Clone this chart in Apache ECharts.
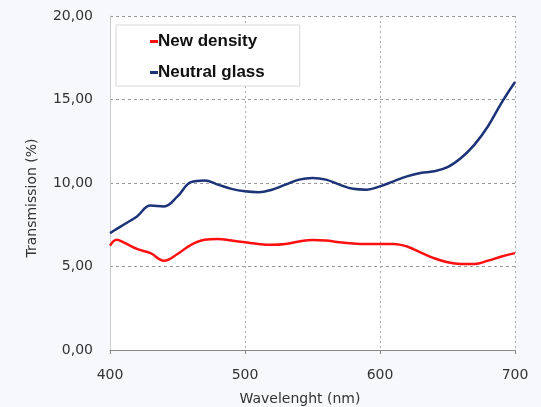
<!DOCTYPE html>
<html><head><meta charset="utf-8">
<script src="https://cdn.jsdelivr.net/npm/echarts@6/dist/echarts.min.js"></script>
<style>html,body{margin:0;padding:0;background:#f6f8fc;}#c{width:541px;height:407px;}</style>
</head><body><div id="c"></div>
<script>
const wavelengths = [400,405,410,420,430,440,450,460,470,480,490,500,510,520,530,540,550,560,570,580,590,600,610,620,630,640,650,660,670,680,690,700];
const newDensity  = [6.25,6.6,6.45,6.05,5.8,5.35,5.75,6.3,6.6,6.65,6.55,6.45,6.35,6.3,6.35,6.5,6.58,6.55,6.45,6.38,6.35,6.35,6.35,6.2,5.85,5.5,5.25,5.15,5.15,5.35,5.6,5.8];
const neutralGlass= [7.0,7.25,7.5,8.0,8.65,8.6,9.2,10.05,10.15,9.9,9.65,9.5,9.45,9.6,9.9,10.2,10.3,10.2,9.9,9.65,9.6,9.8,10.1,10.4,10.6,10.7,10.95,11.5,12.3,13.4,14.8,16.05];
const seriesNames = ['New density','Neutral glass'];
const xTicks = [400,500,600,700];
const yTicks = [0,5,10,15,20];

const chart = echarts.init(document.getElementById('c'));
const pair = arr => wavelengths.map((w,i)=>[w,arr[i]]);
const axisFont = 'DejaVu Sans, Verdana, sans-serif';
chart.setOption({
  animation:false,
  backgroundColor:'#f6f8fc',
  textStyle:{fontFamily:axisFont},
  grid:{left:110,right:26,top:16,bottom:57,show:true,backgroundColor:'#ffffff',borderWidth:0,containLabel:false,outerBoundsMode:'none'},
  legend:{
    orient:'vertical',left:116,top:25,
    data:seriesNames,
    backgroundColor:'#ffffff',borderColor:'#d8d8d8',borderWidth:1,
    padding:[8,35,5,34],itemGap:14,
    itemWidth:8,itemHeight:3,icon:'rect',
    textStyle:{fontFamily:'Liberation Sans, Arial, sans-serif',fontSize:17,fontWeight:'bold',color:'#111',padding:[0,0,0,-5]}
  },
  xAxis:{
    type:'value',min:400,max:700,interval:100,
    name:'Wavelenght (nm)',nameLocation:'middle',nameGap:42,
    nameTextStyle:{fontSize:14,color:'#333',padding:[0,25,0,0]},
    axisLine:{show:true,lineStyle:{color:'#888',width:1}},
    axisTick:{show:true,length:4,lineStyle:{color:'#888'}},
    axisLabel:{fontSize:14,color:'#333',margin:18},
    splitLine:{show:true,lineStyle:{type:[2,3],color:'#aaa'}}
  },
  yAxis:{
    type:'value',min:0,max:20,interval:5,
    name:'Transmission (%)',nameLocation:'middle',nameGap:71,
    nameTextStyle:{fontSize:14,color:'#333',padding:[0,30,0,0]},
    axisLine:{show:true,lineStyle:{color:'#ccc',width:1}},
    axisTick:{show:false},
    axisLabel:{fontSize:14,color:'#333',margin:17,formatter:v=>v.toFixed(2).replace('.',',')},
    splitLine:{show:true,lineStyle:{type:[3,3],color:'#999'}}
  },
  series:[
    {name:seriesNames[0],type:'line',smooth:0.4,showSymbol:false,data:pair(newDensity),
     lineStyle:{color:'#ff1010',width:2.5},itemStyle:{color:'#ff1010'}},
    {name:seriesNames[1],type:'line',smooth:0.4,showSymbol:false,data:pair(neutralGlass),
     lineStyle:{color:'#1c3378',width:2.5},itemStyle:{color:'#1c3378'}}
  ]
});
</script></body></html>
